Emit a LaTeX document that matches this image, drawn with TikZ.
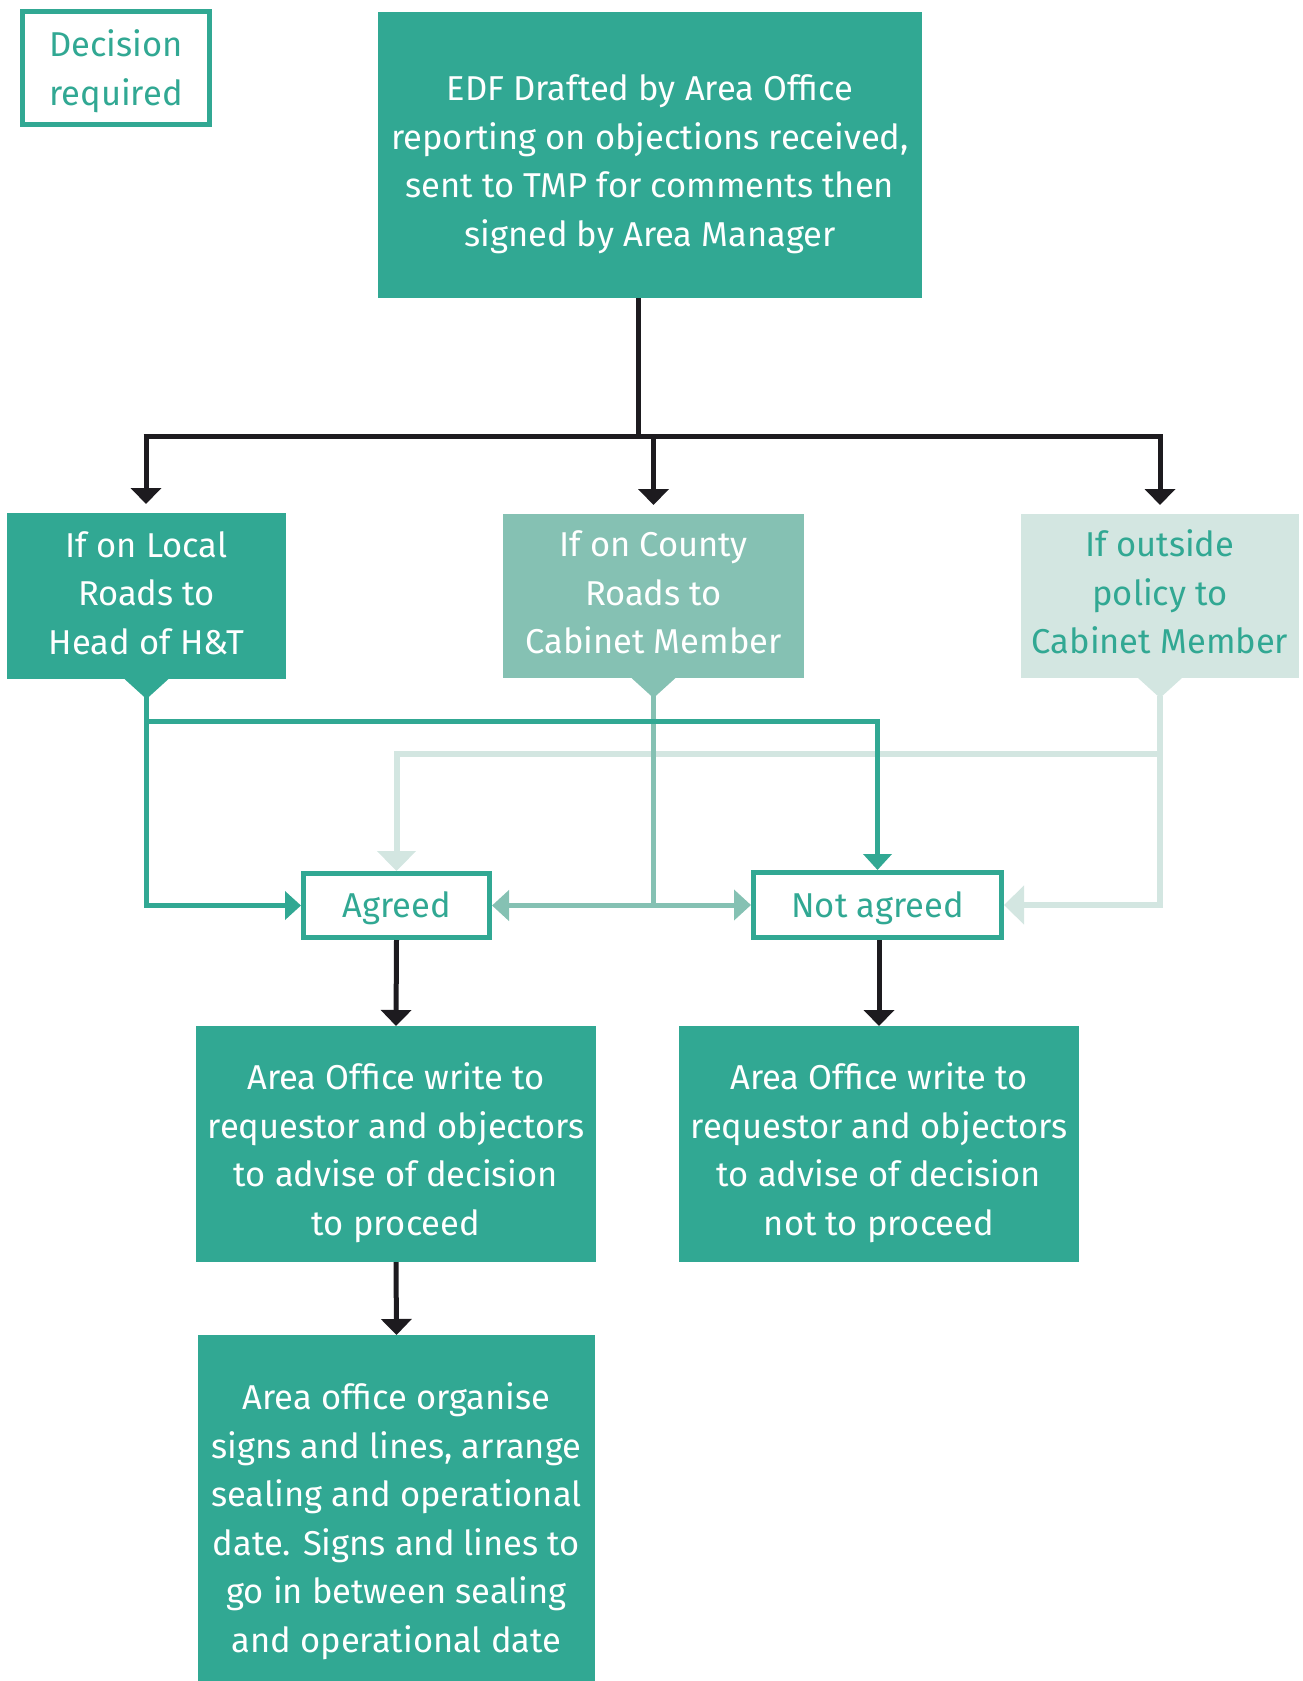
\documentclass[tikz,border=0pt]{standalone}
\usepackage{fontspec}
\setmainfont{Fira Sans}
\usetikzlibrary{arrows.meta}
\definecolor{tealA}{HTML}{31A893}
\definecolor{tealB}{HTML}{85C1B3}
\definecolor{tealC}{HTML}{D3E6E1}
\definecolor{ink}{HTML}{1D1B1F}
\begin{document}
\begin{tikzpicture}[x=1pt,y=-1pt,
  every node/.style={font=\fontsize{34.5}{48.5}\selectfont, align=center, inner sep=0pt, outer sep=0pt},
  fillbox/.style={fill=tealA},
  midbox/.style={fill=tealB},
  lightbox/.style={fill=tealC},
  outbox/.style={draw=tealA, line width=5pt, fill=white, outer sep=2.5pt},
  wtext/.style={text=white},
  ttext/.style={text=tealA},
  inkline/.style={draw=ink, line width=5pt},
  inkarrow/.style={inkline, -{Triangle[width=30pt,length=16pt]}},
  tealline/.style={draw=tealA, line width=5pt},
  tealarrow/.style={tealline, -{Triangle[width=28pt,length=16pt]}},
  midline/.style={draw=tealB, line width=5pt},
  midarrow/.style={midline, -{Triangle[width=30pt,length=17pt]}},
  lightline/.style={draw=tealC, line width=6pt},
  lightarrow/.style={lightline, -{Triangle[width=38pt,length=20pt]}},
]
\useasboundingbox (0,0) rectangle (1302,1681);

% boxes
\node[outbox, minimum width=187pt, minimum height=113pt] (dec) at (116,68) {};
\node[ttext] (dect) at ([yshift=-3pt]dec.center) {Decision\\required};
\node[fillbox, minimum width=544pt, minimum height=286pt] (edf) at (650,155) {};
\node[wtext] (edft) at ([yshift=-9pt]edf.center)
  {EDF Drafted by Area Office\\reporting on objections received,\\sent to TMP for comments then\\signed by Area Manager};
\node[fillbox, minimum width=279pt, minimum height=166pt] (loc) at (146.5,596) {};
\node[wtext] (loct) at ([yshift=3pt]loc.center) {If on Local\\Roads to\\Head of H\&T};
\node[midbox, minimum width=301pt, minimum height=164pt] (cty) at (653.5,596) {};
\node[wtext] (ctyt) at ([yshift=3.5pt]cty.center) {If on County\\Roads to\\Cabinet Member};
\node[lightbox, minimum width=278pt, minimum height=164pt] (pol) at (1160,596) {};
\node[ttext] (polt) at ([yshift=4pt]pol.center) {If outside\\policy to\\Cabinet Member};
\node[outbox, minimum width=186pt, minimum height=64pt] (agr) at (396.5,905.5) {};
\node[ttext] (agrt) at ([yshift=-3pt]agr.center) {Agreed};
\node[outbox, minimum width=248pt, minimum height=65pt] (nag) at (877.5,905) {};
\node[ttext] (nagt) at ([yshift=-3pt]nag.center) {Not agreed};
\node[fillbox, minimum width=400pt, minimum height=236pt] (res1) at (396,1144) {};
\node[wtext] (res1t) at ([yshift=-8.5pt]res1.center)
  {Area Office write to\\requestor and objectors\\to advise of decision\\to proceed};
\node[fillbox, minimum width=400pt, minimum height=236pt] (res2) at (879,1144) {};
\node[wtext] (res2t) at ([yshift=-8.5pt]res2.center)
  {Area Office write to\\requestor and objectors\\to advise of decision\\not to proceed};
\node[fillbox, minimum width=397pt, minimum height=346pt] (fin) at (396.5,1508) {};
\node[wtext] (fint) at ([yshift=-13pt]fin.center)
  {Area office organise\\signs and lines, arrange\\sealing and operational\\date. Signs and lines to\\go in between sealing\\and operational date};

% pointers
\fill[tealA] ([xshift=-22pt]loc.south) -- ([xshift=22pt]loc.south) -- ([yshift=-20pt]loc.south) -- cycle;
\fill[tealB] ([xshift=-22pt]cty.south) -- ([xshift=22pt]cty.south) -- ([yshift=-20pt]cty.south) -- cycle;
\fill[tealC] ([xshift=-22pt]pol.south) -- ([xshift=22pt]pol.south) -- ([yshift=-20pt]pol.south) -- cycle;
\coordinate (locp) at ([yshift=-18pt]loc.south);
\coordinate (ctyp) at ([yshift=-18pt]cty.south);
\coordinate (polp) at ([yshift=-18pt]pol.south);

% black connectors from EDF
\coordinate (hub) at (638,436);
\coordinate (jl) at (146,436);
\coordinate (jr) at (1160,436);
\draw[inkline] (edf.south -| hub) -- (hub);
\draw[inkline] ([xshift=-2.5pt]jl) -- ([xshift=2.5pt]jr);
\draw[inkarrow, shorten >=9pt] (jl) -- (jl |- loc.north);
\draw[inkarrow, shorten >=9pt] (hub -| cty.north) -- (cty.north);
\draw[inkarrow, shorten >=9pt] (jr) -- (jr |- pol.north);

% light connectors (outside policy)
\draw[lightarrow] (polp) -- (polp |- nag.east) -- (nag.east);
\draw[lightarrow] (polp |- 0,754) -- (agr.north |- 0,754) -- (agr.north);

% medium connectors (county)
\draw[midline] (ctyp) -- (ctyp |- agr.east);
\draw[midarrow] (ctyp |- agr.east) -- (agr.east);
\draw[midarrow] (ctyp |- nag.west) -- (nag.west);

% teal connectors (local)
\draw[tealarrow] (locp) -- (locp |- agr.west) -- (agr.west);
\draw[tealarrow] (locp |- 0,721) -- (nag.north |- 0,721) -- (nag.north);

% black connectors below
\draw[inkarrow] (agr.south) -- (res1.north);
\draw[inkarrow] (nag.south -| res2.north) -- (res2.north);
\draw[inkarrow] (res1.south) -- (fin.north);
\end{tikzpicture}
\end{document}
